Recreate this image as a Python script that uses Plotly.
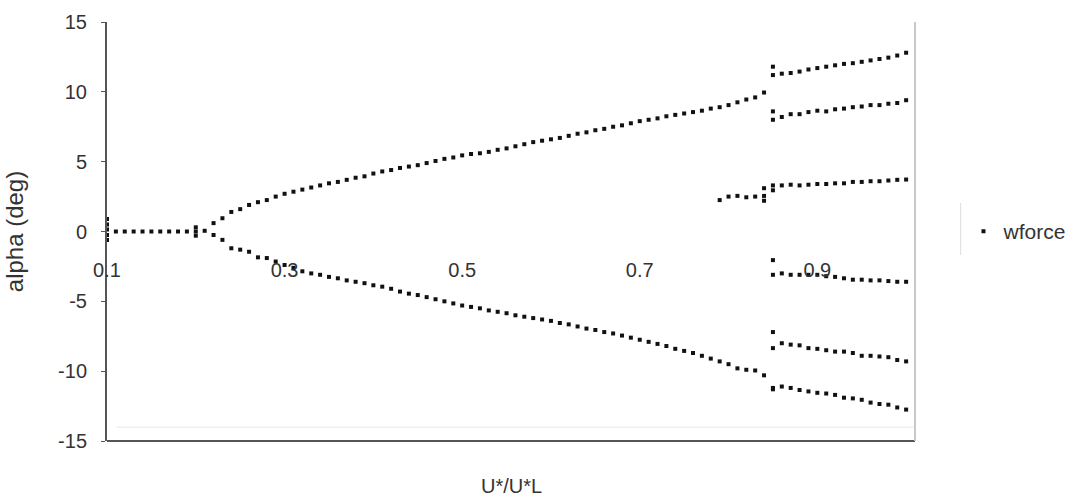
import plotly.graph_objects as go

# ---- wforce: pitch angle alpha (deg) versus U*/U*L ----
# trunk (symmetric state)
trunk_u = [0.10, 0.10, 0.10, 0.10, 0.10, 0.11, 0.12, 0.13, 0.14, 0.15, 0.16,
           0.17, 0.18, 0.19, 0.20, 0.20, 0.20, 0.21]
trunk_a = [0.9, 0.5, 0.15, -0.25, -0.6, 0.0, 0.0, 0.0, 0.0, 0.0, 0.0,
           0.0, 0.0, 0.0, 0.0, 0.3, -0.3, 0.05]

# main branches, 0.22 .. 0.84
branch_u = [0.22, 0.23, 0.24, 0.25, 0.26, 0.27, 0.28, 0.29, 0.30, 0.31, 0.32,
            0.33, 0.34, 0.35, 0.36, 0.37, 0.38, 0.39, 0.40, 0.41, 0.42, 0.43,
            0.44, 0.45, 0.46, 0.47, 0.48, 0.49, 0.50, 0.51, 0.52, 0.53, 0.54,
            0.55, 0.56, 0.57, 0.58, 0.59, 0.60, 0.61, 0.62, 0.63, 0.64, 0.65,
            0.66, 0.67, 0.68, 0.69, 0.70, 0.71, 0.72, 0.73, 0.74, 0.75, 0.76,
            0.77, 0.78, 0.79, 0.80, 0.81, 0.82, 0.83, 0.84]
upper_a = [0.6, 0.95, 1.4, 1.6, 1.9, 2.1, 2.25, 2.5, 2.7, 2.85, 3.0,
           3.15, 3.3, 3.45, 3.55, 3.7, 3.85, 3.95, 4.15, 4.3, 4.4, 4.55,
           4.65, 4.75, 4.9, 5.05, 5.2, 5.3, 5.45, 5.55, 5.6, 5.7, 5.85,
           5.95, 6.1, 6.25, 6.4, 6.5, 6.6, 6.7, 6.85, 7.0, 7.1, 7.25,
           7.35, 7.5, 7.6, 7.75, 7.9, 8.0, 8.1, 8.25, 8.35, 8.45, 8.55,
           8.65, 8.8, 8.9, 9.05, 9.25, 9.45, 9.6, 9.95]
lower_a = [-0.25, -0.6, -1.2, -1.3, -1.45, -1.85, -1.9, -2.15, -2.4, -2.6, -2.85,
           -3.0, -3.1, -3.25, -3.35, -3.5, -3.6, -3.7, -3.85, -3.95, -4.1, -4.3,
           -4.45, -4.55, -4.7, -4.85, -5.0, -5.15, -5.3, -5.4, -5.5, -5.65, -5.75,
           -5.85, -6.0, -6.1, -6.2, -6.3, -6.4, -6.55, -6.65, -6.8, -6.95, -7.05,
           -7.2, -7.3, -7.45, -7.6, -7.75, -7.9, -8.05, -8.2, -8.4, -8.55, -8.7,
           -8.9, -9.1, -9.3, -9.5, -9.8, -9.9, -9.95, -10.3]

# small positive branch before the split
mid_pre_u = [0.79, 0.80, 0.81, 0.82, 0.83, 0.84, 0.84, 0.84]
mid_pre_a = [2.25, 2.5, 2.55, 2.45, 2.5, 2.2, 2.55, 3.1]

# split branches, 0.85 .. 1.00 (two readings at 0.85)
split_u = [0.85, 0.85, 0.86, 0.87, 0.88, 0.89, 0.90, 0.91, 0.92, 0.93, 0.94,
           0.95, 0.96, 0.97, 0.98, 0.99, 1.00]
b1_a = [11.8, 11.2, 11.3, 11.35, 11.45, 11.6, 11.7, 11.8, 11.9, 12.0, 12.05,
        12.15, 12.25, 12.35, 12.45, 12.6, 12.8]
b2_a = [8.6, 8.0, 8.2, 8.4, 8.4, 8.55, 8.65, 8.6, 8.75, 8.8, 8.9,
        8.95, 9.05, 9.05, 9.15, 9.2, 9.4]
b3_a = [3.3, 2.95, 3.3, 3.35, 3.3, 3.35, 3.4, 3.4, 3.45, 3.45, 3.55,
        3.55, 3.6, 3.6, 3.65, 3.7, 3.72]
b4_a = [-2.05, -3.1, -3.0, -3.1, -3.1, -3.1, -3.1, -3.2, -3.25, -3.35, -3.45,
        -3.45, -3.5, -3.5, -3.55, -3.6, -3.6]
b5_a = [-7.2, -8.35, -8.0, -8.1, -8.15, -8.35, -8.4, -8.5, -8.6, -8.6, -8.7,
        -8.9, -8.9, -8.95, -9.0, -9.2, -9.3]
b6_a = [-11.2, -11.3, -11.1, -11.2, -11.35, -11.45, -11.55, -11.6, -11.7, -11.9, -11.95,
        -12.05, -12.25, -12.35, -12.4, -12.6, -12.75]

x_ticks = [0.1, 0.3, 0.5, 0.7, 0.9]
y_ticks = [-15, -10, -5, 0, 5, 10, 15]

u_all = trunk_u + branch_u + branch_u + mid_pre_u + split_u * 6
a_all = trunk_a + upper_a + lower_a + mid_pre_a + b1_a + b2_a + b3_a + b4_a + b5_a + b6_a

FONT = "Liberation Sans, Arial, sans-serif"
TXT = "#333333"

fig = go.Figure()
fig.add_trace(go.Scatter(
    x=u_all, y=a_all, mode="markers", name="wforce",
    marker=dict(symbol="square", size=4, color="#111111"),
))

fig.update_layout(
    width=1083, height=497,
    margin=dict(l=107, r=162, t=22, b=56),
    paper_bgcolor="white", plot_bgcolor="white",
    font=dict(family=FONT, size=20, color=TXT),
    showlegend=True,
    legend=dict(x=1.06, y=0.5, xanchor="left", yanchor="middle",
                font=dict(size=21, color=TXT), bgcolor="rgba(0,0,0,0)",
                itemwidth=30),
    xaxis=dict(range=[0.1, 1.01], anchor="free", position=0.5,
               tickvals=x_ticks, ticktext=[f"{v:.1f}" for v in x_ticks],
               ticks="", showline=False, showgrid=False, zeroline=False,
               ticklabelstandoff=24),
    yaxis=dict(range=[-15, 15], tickvals=y_ticks,
               ticktext=[str(v) for v in y_ticks],
               ticks="outside", ticklen=4, tickcolor="#555555",
               showline=True, linecolor="#555555", linewidth=2,
               showgrid=False, zeroline=False, ticklabelstandoff=10,
               title=dict(text="alpha (deg)", standoff=28)),
    shapes=[
        dict(type="line", xref="paper", yref="paper", x0=0, x1=1, y0=0, y1=0,
             line=dict(color="#555555", width=2)),
        dict(type="line", xref="paper", yref="paper", x0=0.012, x1=1, y0=0.033, y1=0.033,
             line=dict(color="#e8e8e8", width=1)),
        dict(type="line", xref="paper", yref="paper", x0=1, x1=1, y0=0, y1=1,
             line=dict(color="#c8c8c8", width=2)),
        dict(type="line", xref="paper", yref="paper", x0=1.0565, x1=1.0565, y0=0.444, y1=0.568,
             line=dict(color="#dddddd", width=1)),
    ],
    annotations=[
        dict(text="U*/U*L", xref="paper", yref="paper", x=0.5, y=0,
             yshift=-58, showarrow=False, font=dict(size=20, color=TXT)),
    ],
)

fig.write_html("out.html")
